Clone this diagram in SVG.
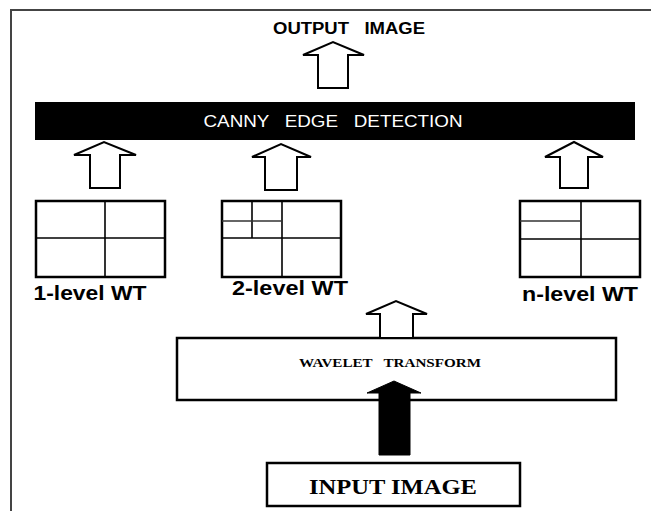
<svg xmlns="http://www.w3.org/2000/svg" width="651" height="511" viewBox="0 0 651 511">
<style>
.frame{fill:none;stroke:#444;stroke-width:2}
.box{fill:#fff;stroke:#000;stroke-width:2.5}
.grid{stroke:#000;stroke-width:1.6;fill:none}
.sub{stroke:#333;stroke-width:1.4;fill:none}
.harrow{fill:#fff;stroke:#000;stroke-width:2;stroke-linejoin:miter}
.barrow{fill:#000;stroke:#000;stroke-width:1}
.sans{font-family:"Liberation Sans",Arial,sans-serif}
.serif{font-family:"Liberation Serif","Times New Roman",serif;font-weight:bold}
.lbl{font-family:"Liberation Sans",Arial,sans-serif;font-weight:bold;font-size:20px;text-anchor:middle}
</style>
<rect width="651" height="511" fill="#fff"/>
<rect class="frame" x="11" y="10" width="670" height="530"/>

<g id="output-image">
<text class="sans" xml:space="preserve" x="349" y="34" font-size="16" font-weight="bold" text-anchor="middle" textLength="152" lengthAdjust="spacingAndGlyphs">OUTPUT   IMAGE</text>
</g>

<g id="canny">
<rect x="35" y="102" width="600" height="38" fill="#000"/>
<text class="sans" xml:space="preserve" x="333" y="127" font-size="16.5" fill="#fff" text-anchor="middle" textLength="259" lengthAdjust="spacingAndGlyphs">CANNY   EDGE   DETECTION</text>
</g>

<g id="wt1">
<rect class="box" x="36" y="201" width="129" height="76"/>
<line class="grid" x1="105" y1="201" x2="105" y2="277"/>
<line class="grid" x1="36" y1="238" x2="165" y2="238"/>
<text class="lbl" x="90" y="300" textLength="113" lengthAdjust="spacingAndGlyphs">1-level WT</text>
</g>

<g id="wt2">
<rect class="box" x="222" y="201" width="119" height="76"/>
<line class="grid" x1="282" y1="201" x2="282" y2="277"/>
<line class="grid" x1="222" y1="238" x2="341" y2="238"/>
<line class="grid" x1="252" y1="201" x2="252" y2="238"/>
<line class="sub" x1="222" y1="221" x2="282" y2="221"/>
<text class="lbl" x="290" y="295" textLength="116" lengthAdjust="spacingAndGlyphs">2-level WT</text>
</g>

<g id="wtn">
<rect class="box" x="520" y="201" width="120" height="76"/>
<line class="grid" x1="581" y1="201" x2="581" y2="277"/>
<line class="grid" x1="520" y1="239" x2="640" y2="239"/>
<line class="sub" x1="520" y1="221" x2="581" y2="221"/>
<text class="lbl" x="580" y="301" textLength="116" lengthAdjust="spacingAndGlyphs">n-level WT</text>
</g>

<g id="wavelet">
<rect class="box" x="177" y="338" width="439" height="62"/>
<text class="serif" xml:space="preserve" x="390" y="367" font-size="12.5" text-anchor="middle" textLength="182" lengthAdjust="spacingAndGlyphs">WAVELET   TRANSFORM</text>
</g>

<g id="input-image">
<rect class="box" x="267" y="463" width="253" height="43"/>
<text class="serif" x="393" y="494" font-size="21" text-anchor="middle" textLength="168" lengthAdjust="spacingAndGlyphs">INPUT IMAGE</text>
</g>

<g id="connectors">
<polygon class="harrow" points="318,88 318,55 303,55 333,42 364,55 348,55 348,88"/>
<polygon class="harrow" points="90,188 90,155 74,155 104,142 136,155 120,155 120,188"/>
<polygon class="harrow" points="265,190 265,157 252,157 281,144 311,157 297,157 297,190"/>
<polygon class="harrow" points="560,188 560,157 545,157 574,142 603,157 588,157 588,188"/>
<polygon class="harrow" points="380,338 380,314 366,314 396,301 427,314 413,314 413,338"/>
<polygon class="barrow" points="379,455 379,393 367,393 394,381 421,393 410,393 410,455"/>
</g>
</svg>
